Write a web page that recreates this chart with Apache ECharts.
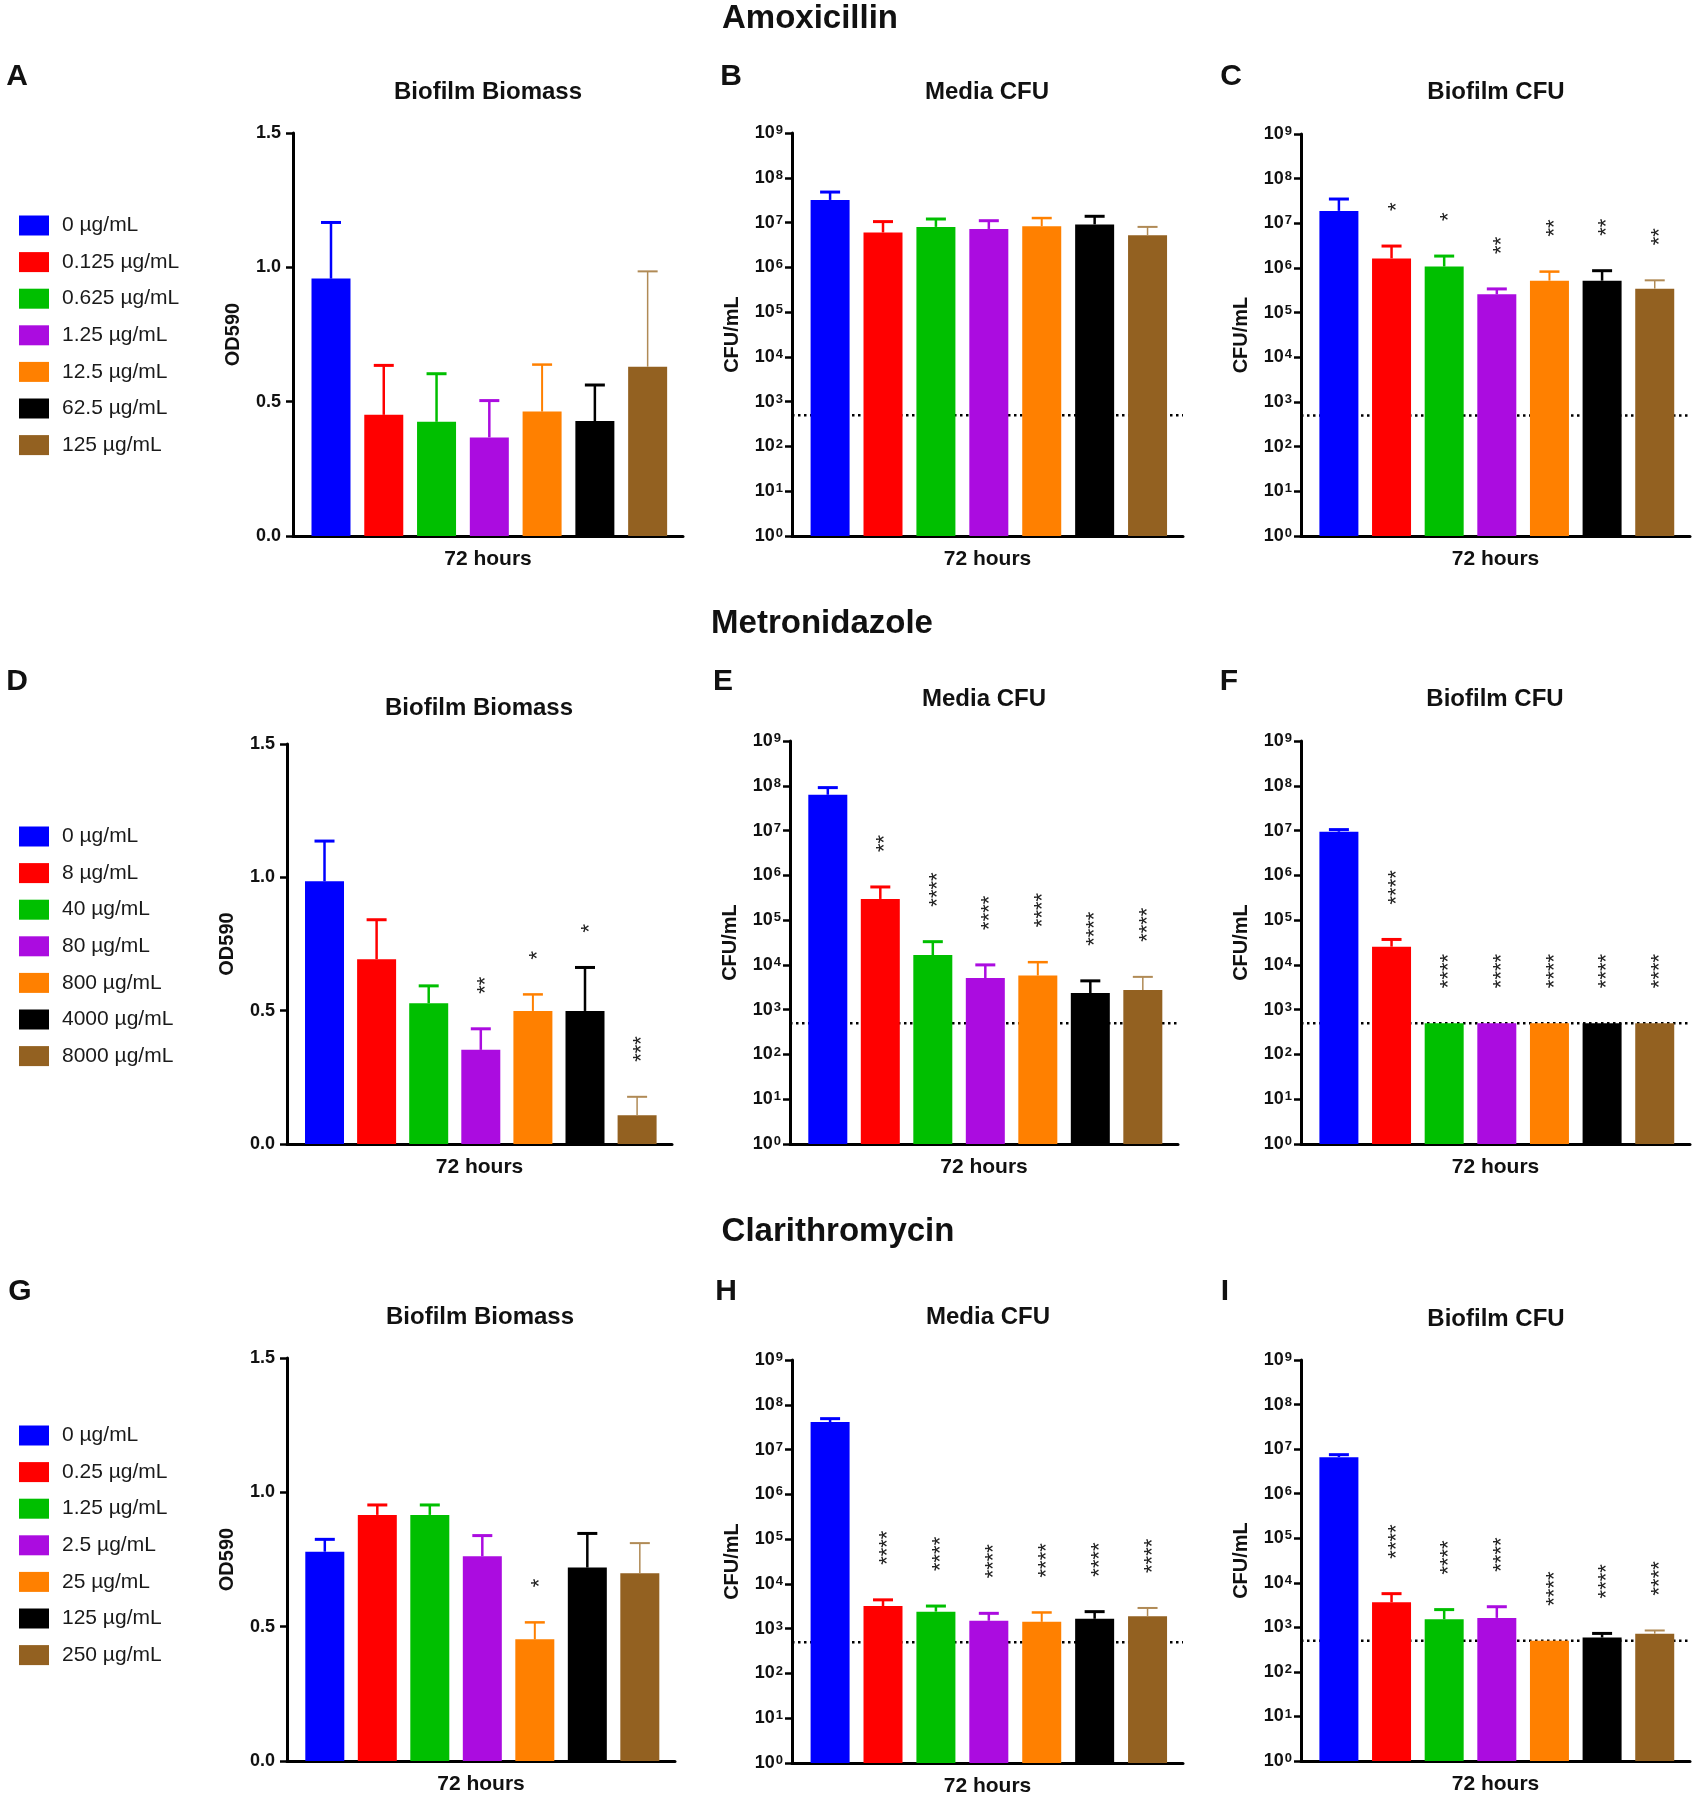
<!DOCTYPE html>
<html><head><meta charset="utf-8">
<script src="https://cdn.jsdelivr.net/npm/echarts@6/dist/echarts.min.js"></script>
<style>html,body{margin:0;padding:0;background:#fff}#c{width:1696px;height:1800px}</style>
</head><body><div id="c"></div>
<script>
// ---------- DATA ----------
const drugTitles = ['Amoxicillin', 'Metronidazole', 'Clarithromycin'];
const panelTitles = ['Biofilm Biomass', 'Media CFU', 'Biofilm CFU'];
const xLabel = '72 hours';
const LOD = 500; // detection limit (dotted line)

const amoxLabels  = ['0 µg/mL','0.125 µg/mL','0.625 µg/mL','1.25 µg/mL','12.5 µg/mL','62.5 µg/mL','125 µg/mL'];
const metroLabels = ['0 µg/mL','8 µg/mL','40 µg/mL','80 µg/mL','800 µg/mL','4000 µg/mL','8000 µg/mL'];
const clariLabels = ['0 µg/mL','0.25 µg/mL','1.25 µg/mL','2.5 µg/mL','25 µg/mL','125 µg/mL','250 µg/mL'];

// Amoxicillin
const amoxBiomassMean = [0.958, 0.451, 0.425, 0.367, 0.463, 0.428, 0.630];
const amoxBiomassSem  = [0.209, 0.184, 0.179, 0.137, 0.175, 0.134, 0.355];
const amoxBiomassStars = ['', '', '', '', '', '', ''];
const amoxMediaMean = [3.2e7, 6.0e6, 8.0e6, 7.2e6, 8.3e6, 9.1e6, 5.2e6];
const amoxMediaSem  = [1.6e7, 4.5e6, 4.0e6, 3.8e6, 4.3e6, 4.7e6, 2.8e6];
const amoxMediaStars = ['', '', '', '', '', '', ''];
const amoxBiofilmMean = [1.9e7, 1.64e6, 1.08e6, 2.57e5, 5.2e5, 5.2e5, 3.45e5];
const amoxBiofilmSem  = [1.6e7, 1.46e6, 7.7e5, 8.3e4, 3.1e5, 3.5e5, 1.85e5];
const amoxBiofilmStars = ['', '*', '*', '**', '**', '**', '**'];

// Metronidazole
const metroBiomassMean = [0.985, 0.693, 0.528, 0.353, 0.499, 0.499, 0.108];
const metroBiomassSem  = [0.151, 0.148, 0.065, 0.079, 0.062, 0.163, 0.069];
const metroBiomassStars = ['', '', '', '**', '*', '*', '***'];
const metroMediaMean = [6.3e7, 2.97e5, 1.66e4, 5.1e3, 5.8e3, 2.35e3, 2.75e3];
const metroMediaSem  = [2.8e7, 2.53e5, 1.64e4, 4.9e3, 5.7e3, 2.05e3, 2.65e3];
const metroMediaStars = ['', '**', '****', '****', '****', '****', '****'];
const metroBiofilmMean = [9.4e6, 2.55e4, 500, 500, 500, 500, 500];
const metroBiofilmSem  = [1.1e6, 1.15e4, 0, 0, 0, 0, 0];
const metroBiofilmStars = ['', '****', '****', '****', '****', '****', '****'];

// Clarithromycin
const clariBiomassMean = [0.779, 0.916, 0.916, 0.762, 0.453, 0.720, 0.699];
const clariBiomassSem  = [0.046, 0.037, 0.037, 0.077, 0.063, 0.127, 0.112];
const clariBiomassStars = ['', '', '', '', '*', '', ''];
const clariMediaMean = [4.1e7, 3.2e3, 2.4e3, 1.5e3, 1.42e3, 1.66e3, 1.9e3];
const clariMediaSem  = [8.0e6, 1.2e3, 8.0e2, 7.0e2, 8.8e2, 7.4e2, 1.0e3];
const clariMediaStars = ['', '****', '****', '****', '****', '****', '****'];
const clariBiofilmMean = [6.6e6, 3.65e3, 1.52e3, 1.63e3, 500, 590, 720];
const clariBiofilmSem  = [9.0e5, 2.05e3, 9.8e2, 1.27e3, 0, 140, 130];
const clariBiofilmStars = ['', '****', '****', '****', '****', '****', '****'];

// ---------- STYLE ----------
const BAR_COLORS = ['#0000ff','#ff0000','#00bf00','#ab0ce0','#ff8000','#000000','#936121'];
const ERR_COLORS = ['#0000ff','#ff0000','#00bf00','#ab0ce0','#ff8000','#000000','#b08a55'];
const ERR_WIDTHS = [2.5, 2.5, 2.5, 2.5, 2, 2.5, 1.5];
const FONT = 'Liberation Sans, Arial, sans-serif';
const X_MIN = -0.72, X_MAX = 6.67;
const BAR_W = 39, CAP = 10, STAR_GAP = 35, STAR_DX = 5;

const rows = [
  {labels: amoxLabels, legendTop: 215, title: drugTitles[0], titlePos:[810,19],
   panels: [
    {letter:'A', letterPos:[17,77], titlePos:[488,92], grid:{left:293, top:133, width:390, height:403}, kind:'od', mean:amoxBiomassMean, sem:amoxBiomassSem, stars:amoxBiomassStars},
    {letter:'B', letterPos:[731,77], titlePos:[987,92], grid:{left:792, top:133, width:391, height:403}, kind:'log', mean:amoxMediaMean, sem:amoxMediaSem, stars:amoxMediaStars},
    {letter:'C', letterPos:[1231,77], titlePos:[1496,92], grid:{left:1301, top:134, width:389, height:402}, kind:'log', mean:amoxBiofilmMean, sem:amoxBiofilmSem, stars:amoxBiofilmStars}
   ]},
  {labels: metroLabels, legendTop: 826, title: drugTitles[1], titlePos:[822,624],
   panels: [
    {letter:'D', letterPos:[17,682], titlePos:[479,708], grid:{left:287, top:744, width:385, height:400}, kind:'od', mean:metroBiomassMean, sem:metroBiomassSem, stars:metroBiomassStars},
    {letter:'E', letterPos:[723,682], titlePos:[984,699], grid:{left:790, top:741, width:388, height:403}, kind:'log', mean:metroMediaMean, sem:metroMediaSem, stars:metroMediaStars},
    {letter:'F', letterPos:[1229,682], titlePos:[1495,699], grid:{left:1301, top:741, width:389, height:403}, kind:'log', mean:metroBiofilmMean, sem:metroBiofilmSem, stars:metroBiofilmStars}
   ]},
  {labels: clariLabels, legendTop: 1425, title: drugTitles[2], titlePos:[838,1232],
   panels: [
    {letter:'G', letterPos:[20,1292], titlePos:[480,1317], grid:{left:287, top:1358, width:388, height:403}, kind:'od', mean:clariBiomassMean, sem:clariBiomassSem, stars:clariBiomassStars},
    {letter:'H', letterPos:[726,1292], titlePos:[988,1317], grid:{left:792, top:1360, width:391, height:403}, kind:'log', mean:clariMediaMean, sem:clariMediaSem, stars:clariMediaStars},
    {letter:'I', letterPos:[1225,1292], titlePos:[1496,1319], grid:{left:1301, top:1360, width:389, height:401}, kind:'log', mean:clariBiofilmMean, sem:clariBiofilmSem, stars:clariBiofilmStars}
   ]}
];

const grids = [], xAxes = [], yAxes = [], series = [], legends = [], graphics = [];

function txt(s, pos, size, weight) {
  return {type:'text', x:pos[0], y:pos[1], silent:true,
    style:{text:s, fontSize:size, fontWeight:weight||'bold', fontFamily:FONT, fill:'#111', align:'center', verticalAlign:'middle'}};
}

rows.forEach((row, ri) => {
  graphics.push(txt(row.title, row.titlePos, 33));
  legends.push({
    orient:'vertical', left:19, top:row.legendTop, padding:0, itemWidth:30, itemHeight:20, itemGap:15.6,
    selectedMode:false, icon:'rect',
    textStyle:{fontSize:21, lineHeight:20, color:'#1a1a1a', fontFamily:FONT, padding:[0,0,0,8]},
    data: row.labels.map((n, i) => ({name:n, itemStyle:{color:BAR_COLORS[i]}}))
  });
  row.panels.forEach((p, pi) => {
    const g = grids.length;
    grids.push(Object.assign({containLabel:false}, p.grid));
    graphics.push(txt(p.letter, p.letterPos, 30));
    graphics.push(txt(panelTitles[pi], p.titlePos, 24));
    xAxes.push({gridIndex:g, type:'value', min:X_MIN, max:X_MAX, name:xLabel, nameLocation:'middle', nameGap:13,
      nameTextStyle:{fontSize:21, fontWeight:'bold', color:'#111', fontFamily:FONT},
      axisLine:{show:true, onZero:false, lineStyle:{color:'#000', width:3}}, axisTick:{show:false}, axisLabel:{show:false}, splitLine:{show:false}});
    const yCommon = {gridIndex:g, nameLocation:'middle', nameGap:50,
      nameTextStyle:{fontSize:20, fontWeight:'bold', color:'#111', fontFamily:FONT},
      axisLine:{show:true, onZero:false, lineStyle:{color:'#000', width:3}},
      axisTick:{show:true, length:7, lineStyle:{color:'#000', width:2.5}}, splitLine:{show:false}};
    if (p.kind === 'od') {
      yAxes.push(Object.assign({}, yCommon, {type:'value', min:0, max:1.5, interval:0.5, name:'OD590',
        axisLabel:{fontSize:18, fontWeight:'bold', color:'#111', fontFamily:FONT, margin:12, formatter:v => v.toFixed(1)}}));
    } else {
      yAxes.push(Object.assign({}, yCommon, {type:'log', logBase:10, min:1, max:1e9, name:'CFU/mL',
        minorTick:{show:false},
        axisLabel:{margin:9, formatter:v => '{b|10}{s|' + Math.round(Math.log10(v)) + '}',
          rich:{b:{fontSize:18, fontWeight:'bold', color:'#111', fontFamily:FONT, lineHeight:18, verticalAlign:'bottom'},
                s:{fontSize:13, fontWeight:'bold', color:'#111', fontFamily:FONT, lineHeight:13, verticalAlign:'top', padding:[0,0,8,1]}}}}));
      series.push({type:'line', xAxisIndex:g, yAxisIndex:g, data:[[X_MIN, LOD],[X_MAX, LOD]], symbol:'none', silent:true, z:1,
        lineStyle:{color:'#000', width:2.5, type:[2.5, 3.5]}});
    }
    row.labels.forEach((name, i) => {
      series.push({type:'bar', name, xAxisIndex:g, yAxisIndex:g, barWidth:BAR_W, barGap:'-100%', z:2,
        itemStyle:{color:BAR_COLORS[i]}, data:[[i, p.mean[i]]]});
    });
    series.push({type:'custom', xAxisIndex:g, yAxisIndex:g, z:5, silent:true,
      data: p.mean.map((m, i) => [i, m, p.sem[i]]), encode:{x:0, y:1},
      renderItem(params, api) {
        const i = params.dataIndex;
        const x = api.value(0), m = api.value(1), e = api.value(2);
        const base = api.coord([x, m]);
        const top = api.coord([x, m + e]);
        const children = [];
        if (e > 0) {
          children.push({type:'line', shape:{x1:base[0], y1:base[1], x2:top[0], y2:top[1]}, style:{stroke:ERR_COLORS[i], lineWidth:ERR_WIDTHS[i]}});
          children.push({type:'line', shape:{x1:top[0]-CAP, y1:top[1], x2:top[0]+CAP, y2:top[1]}, style:{stroke:ERR_COLORS[i], lineWidth:ERR_WIDTHS[i]+0.5}});
        }
        const s = p.stars[i];
        if (s) children.push({type:'text', x:top[0] + STAR_DX, y:top[1] - STAR_GAP, rotation:Math.PI/2,
          style:{text:s, fontSize:22, fontFamily:FONT, fill:'#222', align:'left', verticalAlign:'middle'}});
        return {type:'group', children};
      }});
  });
});

const chart = echarts.init(document.getElementById('c'), null, {renderer:'canvas'});
chart.setOption({
  animation:false, backgroundColor:'#fff',
  textStyle:{fontFamily:FONT},
  grid:grids, xAxis:xAxes, yAxis:yAxes, legend:legends, series, graphic:graphics
});
</script></body></html>
